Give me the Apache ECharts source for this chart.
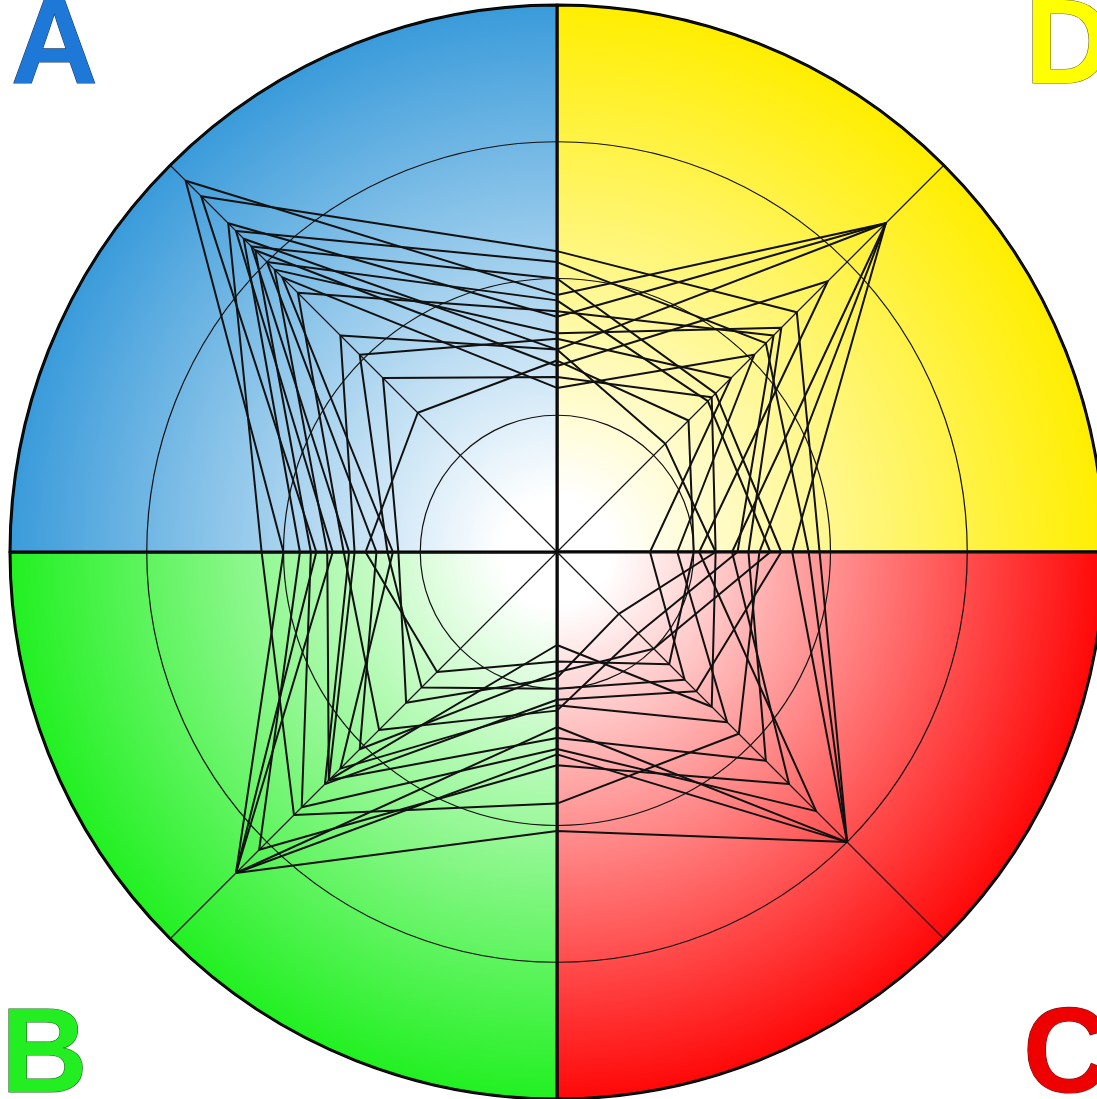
<!DOCTYPE html>
<html>
<head>
<meta charset="utf-8">
<script src="https://cdn.jsdelivr.net/npm/echarts@6/dist/echarts.min.js"></script>
<style>
  html, body { margin: 0; padding: 0; background: #fff; }
  #chart { width: 1097px; height: 1099px; }
</style>
</head>
<body>
<div id="chart"></div>
<script>
// radar axes, counter-clockwise from the top
var axisNames = ['top', 'topLeft', 'left', 'bottomLeft', 'bottom', 'bottomRight', 'right', 'topRight'];
var axisMax = 100;

// quadrants, clockwise from the top: D, C, B, A
var quadNames = ['D', 'C', 'B', 'A'];
var quadColors = ['rgb(255,238,0)', 'rgb(255,8,8)', 'rgb(34,240,34)', 'rgb(58,155,218)'];

// one row per polygon: [top, topLeft, left, bottomLeft, bottom, bottomRight, right, topRight]
var shape1 = [47, 96, 50, 83, 51, 75, 43, 85];
var shape2 = [55, 92, 44, 83, 37, 75, 48, 62];
var shape3 = [43, 85, 54, 68, 46, 47, 37, 85];
var shape4 = [53, 83, 41, 83, 32, 75, 46, 54];
var shape5 = [37, 81, 47, 77, 39, 60, 32, 85];
var shape6 = [50, 79, 38, 60, 27, 36, 41, 41];
var shape7 = [34, 78, 45, 66, 36, 67, 26, 70];
var shape8 = [46, 75, 33, 51, 22, 25, 39, 39];
var shape9 = [40, 73, 42, 59, 34, 54, 35, 58];
var shape10 = [30, 71, 30, 56, 28, 44, 22, 51];
var shape11 = [44, 67, 39, 46, 29, 21, 33, 56];
var shape12 = [37, 56, 37, 59, 17, 40, 29, 28];
var shape13 = [39, 51, 31, 35, 25, 33, 17, 45];
var shape14 = [32, 45, 29, 39, 23, 16, 29, 40];
var shape15 = [35, 36, 35, 31, 20, 29, 25, 34];
var shapes = [shape1, shape2, shape3, shape4, shape5, shape6, shape7, shape8,
  shape9, shape10, shape11, shape12, shape13, shape14, shape15];

var cx = 557, cy = 552, R = 547;

var myChart = echarts.init(document.getElementById('chart'));

function quadFill(color) {
  // white centre fading out to the quadrant colour at the rim
  return new echarts.graphic.RadialGradient(cx, cy, R, [
    { offset: 0, color: '#ffffff' },
    { offset: 0.1, color: '#ffffff' },
    { offset: 1, color: color }
  ], true);
}

var letterFont = 'bold 120px "Liberation Sans", Arial, sans-serif';
function letter(text, x, y, fill, stroke) {
  return {
    type: 'text',
    z: 10,
    style: {
      text: text,
      x: x,
      y: y,
      font: letterFont,
      fill: fill,
      stroke: stroke,
      lineWidth: 1.2,
      align: 'left',
      verticalAlign: 'middle'
    }
  };
}

var option = {
  animation: false,
  backgroundColor: '#ffffff',
  radar: {
    z: 3,
    center: [cx, cy],
    radius: R,
    startAngle: 90,
    shape: 'circle',
    splitNumber: 4,
    indicator: axisNames.map(function (n) { return { name: n, min: 0, max: axisMax }; }),
    axisName: { show: false },
    axisLine: { lineStyle: { color: '#111', width: 1.2 } },
    splitLine: { lineStyle: { color: '#111', width: 1.2 } },
    splitArea: { show: false }
  },
  graphic: [
    letter('A', 11, 50, '#1e78d8', '#1a3f70'),
    letter('D', 1025, 50, '#ffff00', '#6e6a10'),
    letter('B', 1, 1059, '#22ee22', '#1d6a1d'),
    letter('C', 1023, 1059, '#ee0000', '#6a1010')
  ],
  series: [
    {
      type: 'pie',
      z: 1,
      silent: true,
      center: [cx, cy],
      radius: [0, R],
      startAngle: 90,
      clockwise: true,
      label: { show: false },
      labelLine: { show: false },
      itemStyle: { borderColor: '#000', borderWidth: 3 },
      data: quadNames.map(function (n, i) {
        return { name: n, value: 1, itemStyle: { color: quadFill(quadColors[i]) } };
      })
    },
    {
      type: 'radar',
      z: 4,
      silent: true,
      symbol: 'none',
      lineStyle: { color: '#111', width: 2 },
      data: shapes.map(function (s, i) { return { name: 'shape' + (i + 1), value: s }; })
    }
  ]
};

myChart.setOption(option);
window.addEventListener('resize', function () { myChart.resize(); });
</script>
</body>
</html>
